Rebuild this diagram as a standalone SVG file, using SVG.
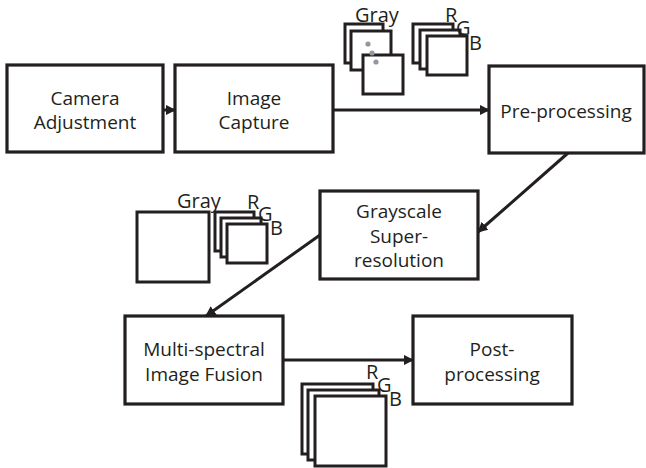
<svg xmlns="http://www.w3.org/2000/svg" width="646" height="468" viewBox="0 0 646 468">
<style>
.box{fill:#fff;stroke:#231f20;stroke-width:3.2}
.sq{fill:#fff;stroke:#231f20;stroke-width:3}
.t{font-family:"Open Sans","Noto Sans",sans-serif;font-size:19px;fill:#231f20;text-anchor:middle}
.l{font-family:"Open Sans","Noto Sans",sans-serif;font-size:20px;fill:#231f20}
.c{fill:none;stroke:#231f20;stroke-width:3}
.dot{fill:#9298a2}
</style>
<defs>
<marker id="ah" viewBox="0 0 10 10" refX="9" refY="5" markerWidth="3.5" markerHeight="3.5" orient="auto" markerUnits="strokeWidth">
<path d="M0,0 L10,5 L0,10 z" fill="#231f20"/>
</marker>
</defs>

<g id="camera-adjustment">
<rect class="box" x="7" y="65" width="156" height="87"/>
<text class="t" x="85" y="105">Camera</text>
<text class="t" x="85" y="129">Adjustment</text>
</g>
<g id="image-capture">
<rect class="box" x="175" y="65" width="158" height="87"/>
<text class="t" x="254" y="105">Image</text>
<text class="t" x="254" y="129">Capture</text>
</g>
<g id="pre-processing">
<rect class="box" x="489" y="66" width="155" height="87"/>
<text class="t" x="566" y="118">Pre-processing</text>
</g>
<g id="grayscale-super-resolution">
<rect class="box" x="320" y="191" width="158" height="88"/>
<text class="t" x="399" y="218">Grayscale</text>
<text class="t" x="399" y="243">Super-</text>
<text class="t" x="399" y="267">resolution</text>
</g>
<g id="multi-spectral-image-fusion">
<rect class="box" x="125" y="316" width="158" height="88"/>
<text class="t" x="204" y="356">Multi-spectral</text>
<text class="t" x="204" y="381">Image Fusion</text>
</g>
<g id="post-processing">
<rect class="box" x="413" y="316" width="159" height="88"/>
<text class="t" x="492" y="356">Post-</text>
<text class="t" x="492" y="381">processing</text>
</g>

<g id="connectors">
<line class="c" x1="163" y1="110" x2="175" y2="110" marker-end="url(#ah)"/>
<line class="c" x1="333" y1="110" x2="489" y2="110" marker-end="url(#ah)"/>
<line class="c" x1="568" y1="153" x2="478" y2="232" marker-end="url(#ah)"/>
<line class="c" x1="320" y1="235" x2="206" y2="316" marker-end="url(#ah)"/>
<line class="c" x1="283" y1="360" x2="413" y2="360" marker-end="url(#ah)"/>
</g>

<g id="gray-stack-top">
<rect class="sq" x="345" y="24" width="38" height="39"/>
<rect class="sq" x="351" y="31" width="40" height="39"/>
<rect class="sq" x="363" y="55" width="40" height="39"/>
<circle class="dot" cx="368" cy="44" r="2.6"/>
<circle class="dot" cx="372" cy="53" r="2.6"/>
<circle class="dot" cx="376" cy="62" r="2.6"/>
<text class="l" x="355" y="22">Gray</text>
</g>
<g id="rgb-stack-top">
<rect class="sq" x="413" y="24" width="40" height="39"/>
<rect class="sq" x="420" y="30" width="40" height="39"/>
<rect class="sq" x="427" y="36" width="40" height="39"/>
<text class="l" x="445" y="22">R</text>
<text class="l" x="456" y="35">G</text>
<text class="l" x="469" y="50">B</text>
</g>
<g id="gray-large-middle">
<rect class="sq" x="137" y="212" width="72" height="70"/>
<text class="l" x="177" y="208">Gray</text>
</g>
<g id="rgb-stack-middle">
<rect class="sq" x="215" y="212" width="39" height="39"/>
<rect class="sq" x="221" y="218" width="40" height="39"/>
<rect class="sq" x="227" y="224" width="40" height="39"/>
<text class="l" x="247" y="209">R</text>
<text class="l" x="258" y="221">G</text>
<text class="l" x="270" y="235">B</text>
</g>
<g id="rgb-stack-bottom">
<rect class="sq" x="302" y="384" width="71" height="70"/>
<rect class="sq" x="308" y="390" width="71" height="70"/>
<rect class="sq" x="315" y="396" width="71" height="70"/>
<text class="l" x="366" y="379">R</text>
<text class="l" x="377" y="392">G</text>
<text class="l" x="389" y="406">B</text>
</g>
</svg>
